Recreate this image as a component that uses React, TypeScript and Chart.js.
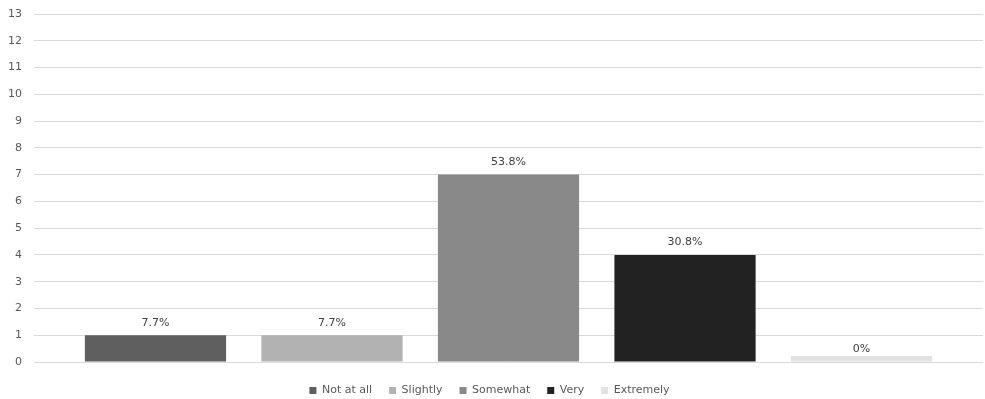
import React, { useEffect, useRef } from "react";
import { Chart, registerables } from "chart.js";

Chart.register(...registerables);

const seriesNames = ["Not at all", "Slightly", "Somewhat", "Very", "Extremely"];
const seriesValues = [1, 1, 7, 4, 0];
const seriesPercents = ["7.7%", "7.7%", "53.8%", "30.8%", "0%"];
const seriesColors = ["#5f5f5f", "#b2b2b2", "#898989", "#222222", "#e2e2e2"];
const yMin = 0;
const yMax = 13;

const FONT = "'DejaVu Sans', sans-serif";

const dataLabels = {
  id: "dataLabels",
  afterDatasetsDraw(chart: any) {
    const ctx = chart.ctx;
    ctx.save();
    ctx.font = `11px ${FONT}`;
    ctx.fillStyle = "#404040";
    ctx.textAlign = "center";
    ctx.textBaseline = "bottom";
    chart.data.datasets.forEach((ds: any, i: number) => {
      const meta = chart.getDatasetMeta(i);
      meta.data.forEach((el: any) => {
        const top = chart.scales.y.getPixelForValue(ds.data[0]);
        ctx.fillText(seriesPercents[i], el.x, top - 7);
      });
    });
    ctx.restore();
  },
};

const legendFit = {
  id: "legendFit",
  beforeInit(chart: any) {
    const legend = chart.legend;
    if (!legend) return;
    const orig = legend.fit;
    legend.fit = function () {
      orig.call(this);
      this.height = 37;
    };
    const origDraw = legend.draw;
    legend.draw = function () {
      const ctx = this.ctx;
      ctx.save();
      ctx.translate(0, 6);
      origDraw.call(this);
      ctx.restore();
    };
  },
};

export default function App() {
  const ref = useRef<HTMLCanvasElement>(null);
  useEffect(() => {
    if (!ref.current) return;
    const chart = new Chart(ref.current, {
      type: "bar",
      data: {
        labels: [""],
        datasets: seriesNames.map((n, i) => ({
          label: n,
          data: [seriesValues[i]],
          backgroundColor: seriesColors[i],
          borderWidth: 0,
          minBarLength: i === 4 ? 6 : 0,
          clip: false,
        })),
      },
      options: {
        animation: false,
        responsive: false,
        maintainAspectRatio: false,
        categoryPercentage: 0.93,
        barPercentage: 0.8,
        layout: { padding: { left: -4, right: 2, top: 0, bottom: 0 } },
        scales: {
          x: { display: false },
          y: {
            min: yMin,
            max: yMax,
            border: { display: false },
            grid: { color: "#d9d9d9", drawTicks: false, lineWidth: 1 },
            ticks: {
              stepSize: 1,
              color: "#595959",
              padding: 12,
              font: { family: FONT, size: 11 },
            },
            afterFit(scale: any) {
              scale.paddingTop = 14;
            },
          },
        },
        plugins: {
          tooltip: { enabled: false },
          legend: {
            position: "bottom",
            labels: {
              boxWidth: 7,
              boxHeight: 7,
              padding: 17,
              color: "#595959",
              font: { family: FONT, size: 11 },
            },
          },
        },
      } as any,
      plugins: [dataLabels, legendFit],
    });
    return () => chart.destroy();
  }, []);
  return (
    <div style={{ position: "absolute", left: 0, top: 0, width: 985, height: 399, background: "#fff" }}>
      <canvas ref={ref} width={985} height={399} />
    </div>
  );
}
